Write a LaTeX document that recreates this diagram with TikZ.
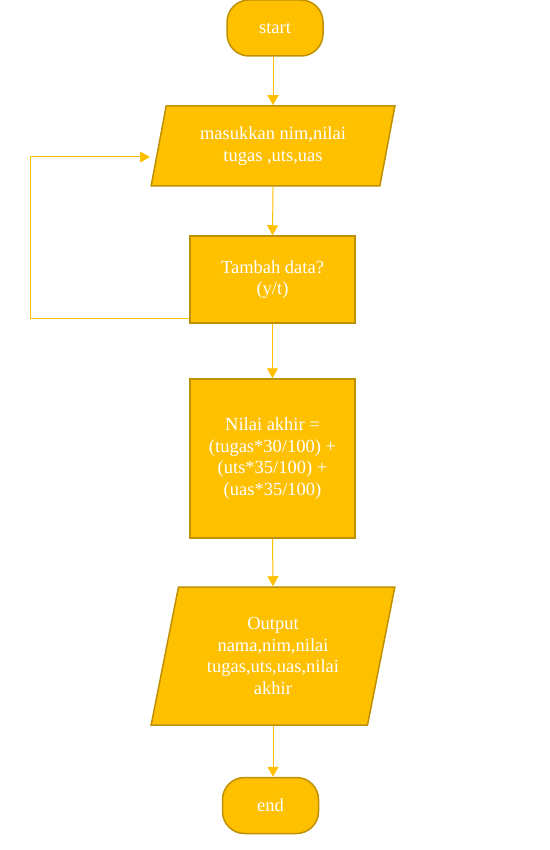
\documentclass[tikz,border=0pt]{standalone}
\usepackage{fontspec}
\setmainfont{Liberation Serif}
\usetikzlibrary{shapes.geometric,arrows.meta,positioning}
\definecolor{gold}{RGB}{255,192,0}
\definecolor{darkgold}{RGB}{191,144,0}

\begin{document}
\begin{tikzpicture}[x=1pt, y=-1pt,
    term/.style={rectangle, rounded corners=22pt, draw=darkgold, fill=gold, line width=1.5pt,
        minimum width=96pt, minimum height=56pt, text=white, font=\fontsize{18.5}{21.7}\selectfont},
    proc/.style={rectangle, draw=darkgold, fill=gold, line width=1.5pt, minimum width=165pt,
        text=white, align=center, font=\fontsize{18.5}{21.7}\selectfont},
    io/.style={trapezium, trapezium left angle=76.6, trapezium right angle=103.4,
        trapezium stretches=true, minimum width=244pt, draw=darkgold, fill=gold, line width=1.5pt,
        text=white, align=center, font=\fontsize{18.5}{21.7}\selectfont},
    flow/.style={-{Triangle[width=11pt,length=10pt]}, gold, line width=1pt}]
    \useasboundingbox (0,0) rectangle (549,850);

    % terminals and steps
    \node[term] (start) at (275,28) {start};
    \node[io, minimum height=80pt] (input) at (273,146) {masukkan nim,nilai\\tugas ,uts,uas};
    \node[proc, minimum height=87pt] (tambah) at (272.5,279.5) {Tambah data?\\(y/t)};
    \node[proc, minimum height=159pt] (hitung) at (272.5,458.5)
        {Nilai akhir =\\(tugas*30/100) +\\(uts*35/100) +\\(uas*35/100)};
    \node[io, minimum height=138pt] (output) at (273,656)
        {Output\\nama,nim,nilai\\tugas,uts,uas,nilai\\akhir};
    \node[term] (end) at (270.5,805.5) {end};

    % loop back
    \coordinate (loopin) at (150,157);

    % connectors
    \draw[flow] (input.north |- start.south) -- (input.north);
    \draw[flow] (input.south) -- (tambah.north);
    \draw[flow] (tambah.south) -- (hitung.north);
    \draw[flow] (hitung.south) -- (output.north);
    \draw[flow] (output.south) -- (output.south |- end.north);
    \draw[flow] ([yshift=-38.5pt]tambah.west) -- (30,318) |- (loopin);
\end{tikzpicture}
\end{document}
